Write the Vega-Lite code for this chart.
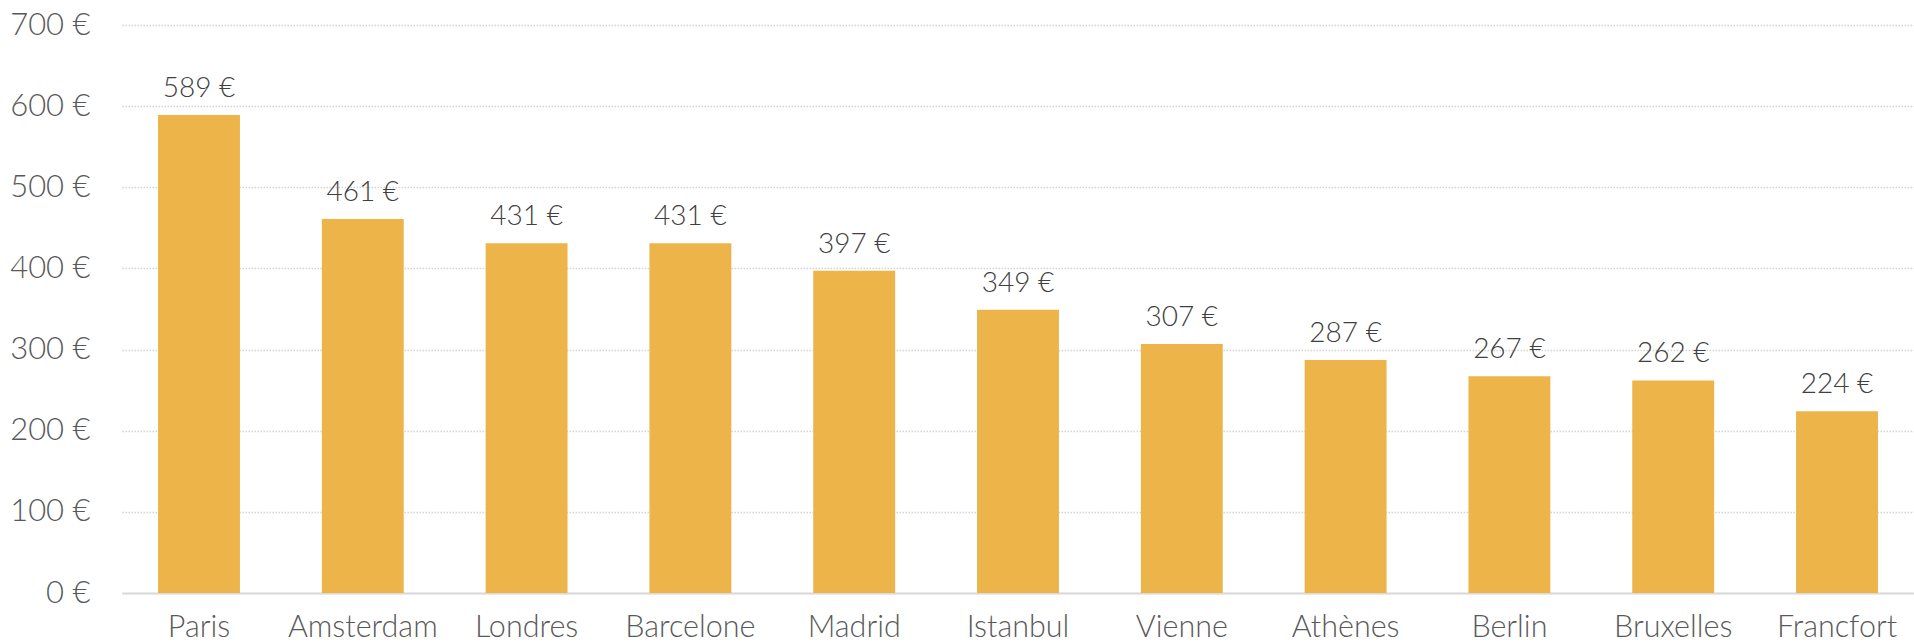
{
  "$schema": "https://vega.github.io/schema/vega-lite/v6.json",
  "width": 1792,
  "height": 568,
  "autosize": {"type": "none"},
  "padding": {"top": 25, "left": 122, "right": 0, "bottom": 50},
  "background": "white",
  "config": {"view": {"stroke": null}, "font": "Lato"},
  "data": {"values": [
    {"ville": "Paris", "prix": 589},
    {"ville": "Amsterdam", "prix": 461},
    {"ville": "Londres", "prix": 431},
    {"ville": "Barcelone", "prix": 431},
    {"ville": "Madrid", "prix": 397},
    {"ville": "Istanbul", "prix": 349},
    {"ville": "Vienne", "prix": 307},
    {"ville": "Athènes", "prix": 287},
    {"ville": "Berlin", "prix": 267},
    {"ville": "Bruxelles", "prix": 262},
    {"ville": "Francfort", "prix": 224}
  ]},
  "encoding": {
    "x": {
      "field": "ville", "type": "nominal", "sort": null,
      "scale": {"paddingInner": 0.5, "paddingOuter": 0.22},
      "axis": {"title": null, "labelAngle": 0, "ticks": false, "domainColor": "#d9d9d9", "domainWidth": 2,
               "labelFont": "Lato", "labelFontSize": 30.5, "labelFontWeight": 300, "labelColor": "#595959", "labelPadding": 19, "labelBaseline": "top"}
    },
    "y": {
      "field": "prix", "type": "quantitative",
      "scale": {"domain": [0, 700]},
      "axis": {"title": null, "values": [0,100,200,300,400,500,600,700], "labelExpr": "datum.value + ' €'",
               "ticks": false, "domain": false, "gridColor": "#d4d4d4", "gridDash": [1.5, 1.5], "gridWidth": 1.5,
               "labelFont": "Lato", "labelFontSize": 31, "labelFontWeight": 300, "labelColor": "#595959", "labelPadding": 32}
    }
  },
  "layer": [
    {"mark": {"type": "bar", "color": "#ECB449"}},
    {"mark": {"type": "text", "baseline": "alphabetic", "dy": -18, "font": "Lato", "fontSize": 28, "fontWeight": 300, "color": "#404040",
              "text": {"expr": "datum.prix + ' €'"}}}
  ]
}
